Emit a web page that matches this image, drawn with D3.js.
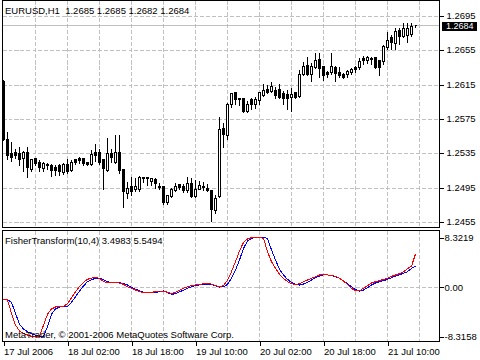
<!DOCTYPE html>
<html>
<head>
<meta charset="utf-8">
<script src="https://cdnjs.cloudflare.com/ajax/libs/d3/7.8.5/d3.min.js"></script>
<style>
  body { margin: 0; background: #fff; }
  svg { display: block; }
  text { font-family: "Liberation Sans", Arial, sans-serif; font-size: 9.5px; fill: #000; }
</style>
</head>
<body>
<div id="chart"></div>
<script>
// EURUSD H1 candles, 17 Jul 10:00 .. 21 Jul 17:00
var opens = [
  1.2619, 1.2552, 1.2535, 1.2536, 1.2535, 1.2529, 1.2536, 1.2517, 1.2529, 1.2525,
  1.2518, 1.2522, 1.2521, 1.2519, 1.2521, 1.2513, 1.2522, 1.2516, 1.2528, 1.2529,
  1.2529, 1.2525, 1.2522, 1.2536, 1.2536, 1.2528, 1.2516, 1.2535, 1.2525, 1.2536,
  1.2517, 1.2489, 1.2497, 1.2493, 1.2494, 1.2507, 1.2507, 1.2503, 1.2505, 1.2497,
  1.2497, 1.2478, 1.2485, 1.2492, 1.2499, 1.2497, 1.2492, 1.2500, 1.2485, 1.2494,
  1.2497, 1.2495, 1.2492, 1.2469, 1.2485, 1.2565, 1.2556, 1.2593, 1.2607, 1.2600,
  1.2600, 1.2584, 1.2598, 1.2593, 1.2597, 1.2603, 1.2610, 1.2608, 1.2609, 1.2610,
  1.2605, 1.2604, 1.2601, 1.2607, 1.2602, 1.2627, 1.2638, 1.2627, 1.2636, 1.2645,
  1.2637, 1.2630, 1.2630, 1.2636, 1.2630, 1.2627, 1.2627, 1.2630, 1.2636, 1.2636,
  1.2646, 1.2644, 1.2646, 1.2647, 1.2644, 1.2643, 1.2659, 1.2670, 1.2664, 1.2679,
  1.2672, 1.2673, 1.2674, 1.2685
];
var highs = [
  1.2622, 1.2561, 1.2549, 1.2541, 1.2544, 1.2539, 1.2543, 1.2530, 1.2531, 1.2528,
  1.2526, 1.2525, 1.2524, 1.2523, 1.2524, 1.2525, 1.2529, 1.2528, 1.2530, 1.2532,
  1.2531, 1.2526, 1.2540, 1.2547, 1.2541, 1.2529, 1.2554, 1.2541, 1.2558, 1.2558,
  1.2518, 1.2503, 1.2509, 1.2507, 1.2510, 1.2509, 1.2508, 1.2508, 1.2507, 1.2502,
  1.2498, 1.2488, 1.2496, 1.2502, 1.2500, 1.2500, 1.2509, 1.2508, 1.2505, 1.2504,
  1.2503, 1.2500, 1.2493, 1.2488, 1.2579, 1.2571, 1.2595, 1.2607, 1.2608, 1.2601,
  1.2601, 1.2597, 1.2601, 1.2602, 1.2607, 1.2617, 1.2616, 1.2619, 1.2613, 1.2617,
  1.2609, 1.2610, 1.2612, 1.2608, 1.2633, 1.2642, 1.2648, 1.2641, 1.2653, 1.2653,
  1.2638, 1.2632, 1.2653, 1.2638, 1.2637, 1.2630, 1.2633, 1.2636, 1.2638, 1.2647,
  1.2650, 1.2649, 1.2648, 1.2648, 1.2645, 1.2662, 1.2678, 1.2674, 1.2682, 1.2682,
  1.2688, 1.2688, 1.2688, 1.2685
];
var lows = [
  1.2550, 1.2528, 1.2526, 1.2529, 1.2521, 1.2514, 1.2508, 1.2515, 1.2521, 1.2514,
  1.2514, 1.2517, 1.2509, 1.2510, 1.2510, 1.2511, 1.2512, 1.2514, 1.2523, 1.2524,
  1.2521, 1.2521, 1.2521, 1.2526, 1.2522, 1.2493, 1.2515, 1.2525, 1.2524, 1.2512,
  1.2472, 1.2483, 1.2486, 1.2491, 1.2491, 1.2502, 1.2498, 1.2498, 1.2495, 1.2494,
  1.2476, 1.2476, 1.2484, 1.2491, 1.2494, 1.2490, 1.2490, 1.2484, 1.2484, 1.2493,
  1.2492, 1.2491, 1.2456, 1.2466, 1.2484, 1.2542, 1.2552, 1.2589, 1.2593, 1.2591,
  1.2583, 1.2583, 1.2587, 1.2588, 1.2593, 1.2602, 1.2605, 1.2607, 1.2599, 1.2599,
  1.2592, 1.2587, 1.2584, 1.2599, 1.2601, 1.2626, 1.2626, 1.2619, 1.2635, 1.2624,
  1.2621, 1.2624, 1.2628, 1.2619, 1.2624, 1.2623, 1.2624, 1.2627, 1.2630, 1.2633,
  1.2639, 1.2640, 1.2639, 1.2635, 1.2626, 1.2639, 1.2657, 1.2657, 1.2656, 1.2662,
  1.2671, 1.2665, 1.2672, 1.2682
];
var closes = [
  1.2552, 1.2533, 1.2531, 1.2533, 1.2528, 1.2536, 1.2519, 1.2528, 1.2524, 1.2519,
  1.2524, 1.2521, 1.2516, 1.2516, 1.2514, 1.2523, 1.2514, 1.2525, 1.2525, 1.2527,
  1.2524, 1.2522, 1.2534, 1.2533, 1.2525, 1.2518, 1.2535, 1.2531, 1.2537, 1.2516,
  1.2491, 1.2495, 1.2491, 1.2497, 1.2508, 1.2506, 1.2506, 1.2506, 1.2500, 1.2496,
  1.2478, 1.2486, 1.2493, 1.2497, 1.2496, 1.2492, 1.2500, 1.2485, 1.2493, 1.2498,
  1.2496, 1.2492, 1.2470, 1.2483, 1.2563, 1.2558, 1.2593, 1.2605, 1.2598, 1.2598,
  1.2584, 1.2593, 1.2593, 1.2598, 1.2606, 1.2609, 1.2607, 1.2613, 1.2603, 1.2601,
  1.2600, 1.2599, 1.2604, 1.2601, 1.2628, 1.2637, 1.2628, 1.2637, 1.2644, 1.2634,
  1.2626, 1.2628, 1.2637, 1.2629, 1.2626, 1.2624, 1.2631, 1.2633, 1.2633, 1.2643,
  1.2644, 1.2647, 1.2645, 1.2636, 1.2636, 1.2660, 1.2667, 1.2665, 1.2677, 1.2672,
  1.2681, 1.2681, 1.2683, 1.2684
];

// FisherTransform(10,4) buffers
var fisherMain = [
  -2.13, -2.13, -2.58, -4.42, -6.28, -7.06, -7.51, -7.84, -8.12, -8.3158,
  -8.30, -6.67, -4.59, -3.70, -3.36, -3.30, -3.25, -2.58, -1.63, -0.67,
  0.17, 0.90, 1.23, 1.46, 1.46, 1.23, 0.90, 0.78, 0.78, 0.78,
  0.56, 0.34, -0.11, -0.34, -0.67, -0.90, -0.90, -0.90, -0.90, -0.78,
  -0.67, -0.95, -1.23, -1.12, -0.78, -0.56, -0.22, 0.05, 0.22, 0.34,
  0.45, 0.45, 0.45, 0.22, 0.00, 0.05, 0.45, 1.46, 2.86, 4.54,
  6.50, 7.73, 8.18, 8.30, 8.3219, 8.32, 8.18, 6.22, 4.54, 2.97,
  2.02, 1.29, 0.78, 0.50, 0.34, 0.50, 0.78, 1.18, 1.57, 1.85,
  2.02, 2.02, 1.96, 1.73, 1.46, 1.06, 0.56, 0.05, -0.45, -0.67,
  -0.50, -0.11, 0.34, 0.67, 0.90, 1.06, 1.29, 1.57, 1.85, 2.07,
  2.30, 2.58, 3.14, 3.4983
];
var fisherSignal = [
  -2.02, -2.18, -4.42, -6.39, -7.39, -7.78, -8.07, -8.29, -8.3158, -8.30,
  -6.39, -4.59, -3.70, -3.36, -3.25, -3.25, -2.80, -1.79, -0.78, 0.05,
  0.78, 1.29, 1.51, 1.57, 1.46, 0.90, 0.78, 0.78, 0.78, 0.67,
  0.45, 0.05, -0.22, -0.50, -0.78, -0.90, -0.90, -0.90, -0.78, -0.67,
  -0.67, -0.90, -1.06, -0.90, -0.56, -0.22, 0.05, 0.22, 0.34, 0.45,
  0.56, 0.62, 0.50, 0.22, 0.05, 0.22, 1.18, 2.58, 4.25, 6.05,
  7.51, 8.07, 8.29, 8.3219, 8.30, 8.18, 5.93, 4.25, 3.14, 2.13,
  1.46, 0.90, 0.56, 0.45, 0.56, 0.90, 1.18, 1.46, 1.73, 2.02,
  2.13, 2.02, 1.96, 1.79, 1.46, 1.01, 0.45, -0.22, -0.62, -0.62,
  -0.22, 0.22, 0.67, 0.90, 1.06, 1.29, 1.46, 1.79, 2.02, 2.24,
  2.58, 3.08, 3.50, 5.5494
];

var priceTicks = [1.2695, 1.2655, 1.2615, 1.2575, 1.2535, 1.2495, 1.2455];
var indTicks = [8.3219, 0, -8.3158];
var timeTickBars = [0, 16, 32, 48, 64, 80, 96];
var timeLabels = ['17 Jul 2006', '18 Jul 02:00', '18 Jul 18:00', '19 Jul 10:00',
                  '20 Jul 02:00', '20 Jul 18:00', '21 Jul 10:00'];
var lastPrice = 1.2684;

var W = 480, H = 360;
var left = 2.5, right = 439.5;
var mainTop = 0.5, mainBottom = 227.5;
var indTop = 230.5, indBottom = 341.5;

var svg = d3.select('#chart').append('svg')
  .attr('width', W)
  .attr('height', H)
  .attr('shape-rendering', 'crispEdges');

svg.append('rect').attr('width', W).attr('height', H).attr('fill', '#fff');

// 4 px per bar
var x = d3.scaleLinear().domain([0, 109]).range([3.5, 439.5]);
var yMain = d3.scaleLinear().domain([1.2455, 1.2695]).range([222.5, 16.5]);
var yInd = d3.scaleLinear().domain([-8.3158, 8.3219]).range([336.5, 237.5]);
var py = function(v) { return Math.round(yMain(v) - 0.5) + 0.5; };

var defs = svg.append('defs');
defs.append('clipPath').attr('id', 'mainClip').append('rect')
  .attr('x', left + 0.5).attr('y', mainTop + 0.5)
  .attr('width', right - left - 1).attr('height', mainBottom - mainTop - 1);
defs.append('clipPath').attr('id', 'indClip').append('rect')
  .attr('x', left + 0.5).attr('y', indTop + 0.5)
  .attr('width', right - left - 1).attr('height', indBottom - indTop - 1);

var gridColor = '#c0c0c0';
var gridBars = d3.range(8, 110, 8);

// grid - main
var gMain = svg.append('g');
gMain.selectAll('line.vgrid').data(gridBars).enter().append('line')
  .attr('x1', d => x(d)).attr('x2', d => x(d))
  .attr('y1', mainTop).attr('y2', mainBottom)
  .attr('stroke', gridColor).attr('stroke-dasharray', '4,2');
gMain.selectAll('line.hgrid').data(priceTicks).enter().append('line')
  .attr('x1', left).attr('x2', right)
  .attr('y1', d => py(d)).attr('y2', d => py(d))
  .attr('stroke', gridColor).attr('stroke-dasharray', '4,2');

// current price line
gMain.append('line')
  .attr('x1', left).attr('x2', right)
  .attr('y1', py(lastPrice)).attr('y2', py(lastPrice))
  .attr('stroke', gridColor);

// candles
var bars = opens.map(function(o, i) {
  return {i: i, o: o, h: highs[i], l: lows[i], c: closes[i]};
});
var gC = svg.append('g').attr('clip-path', 'url(#mainClip)');
gC.selectAll('line.wick').data(bars).enter().append('line')
  .attr('x1', d => x(d.i)).attr('x2', d => x(d.i))
  .attr('y1', d => py(d.h)).attr('y2', d => py(d.l))
  .attr('stroke', '#000');
gC.selectAll('path.body').data(bars).enter().append('path')
  .attr('d', function(d) {
    var t = py(Math.max(d.o, d.c)), b = py(Math.min(d.o, d.c));
    var cx = x(d.i);
    return 'M' + (cx - 1) + ',' + t + 'H' + (cx + 1) + 'V' + b + 'H' + (cx - 1) + 'Z';
  })
  .attr('fill', d => d.c >= d.o ? '#fff' : '#000')
  .attr('stroke', '#000');

// frame - main
svg.append('rect')
  .attr('x', left).attr('y', mainTop)
  .attr('width', right - left).attr('height', mainBottom - mainTop)
  .attr('fill', 'none').attr('stroke', '#000');

// price axis
var priceAxis = svg.append('g')
  .attr('transform', 'translate(' + right + ',0)')
  .call(d3.axisRight(yMain).tickValues(priceTicks).tickFormat(d3.format('.4f'))
    .tickSize(4).tickPadding(3));
priceAxis.select('.domain').remove();
priceAxis.selectAll('.tick').attr('transform', d => 'translate(0,' + py(d) + ')');
priceAxis.selectAll('text').attr('font-family', null).attr('font-size', null)
  .attr('dy', '0.25em');

// last price marker
var lp = svg.append('g').attr('transform', 'translate(0,' + py(lastPrice) + ')');
lp.append('rect').attr('x', 442).attr('y', -3.5).attr('width', 35).attr('height', 8.5).attr('fill', '#000');
lp.append('text').attr('x', 446).attr('dy', '0.4em')
  .style('fill', '#fff').style('font-size', '9px').text(lastPrice.toFixed(4));

// title
svg.append('text').attr('x', 5).attr('y', 14)
  .attr('xml:space', 'preserve').style('white-space', 'pre')
  .text('EURUSD,H1  ' + [opens[103], highs[103], lows[103], closes[103]].map(d3.format('.4f')).join(' '));

// ---------- indicator window ----------
var gInd = svg.append('g');
gInd.selectAll('line.vgrid').data(gridBars).enter().append('line')
  .attr('x1', d => x(d)).attr('x2', d => x(d))
  .attr('y1', indTop).attr('y2', indBottom)
  .attr('stroke', gridColor).attr('stroke-dasharray', '4,2');
gInd.append('line')
  .attr('x1', left).attr('x2', right)
  .attr('y1', Math.round(yInd(0) - 0.5) + 0.5).attr('y2', Math.round(yInd(0) - 0.5) + 0.5)
  .attr('stroke', gridColor).attr('stroke-dasharray', '4,2');

var line = d3.line().x((d, i) => x(i)).y(d => yInd(d));
var gL = svg.append('g').attr('clip-path', 'url(#indClip)');
gL.append('path').datum(fisherMain).attr('d', line)
  .attr('fill', 'none').attr('stroke', '#0000ff').attr('stroke-width', 1);
gL.append('path').datum(fisherSignal).attr('d', line)
  .attr('fill', 'none').attr('stroke', '#ff0000').attr('stroke-width', 1);

svg.append('rect')
  .attr('x', left).attr('y', indTop)
  .attr('width', right - left).attr('height', indBottom - indTop)
  .attr('fill', 'none').attr('stroke', '#000');

svg.append('text').attr('x', 5).attr('y', 244)
  .text('FisherTransform(10,4) ' + fisherMain[103].toFixed(4) + ' ' + fisherSignal[103].toFixed(4));
svg.append('text').attr('x', 5).attr('y', 338)
  .text('MetaTrader, \u00a9 2001-2006 MetaQuotes Software Corp.');

var indAxis = svg.append('g')
  .attr('transform', 'translate(' + right + ',0)')
  .call(d3.axisRight(yInd).tickValues(indTicks)
    .tickFormat(d => d === 0 ? '0.00' : d.toFixed(4))
    .tickSize(4).tickPadding(1));
indAxis.select('.domain').remove();
indAxis.selectAll('text').attr('font-family', null).attr('font-size', null);

// time axis
var timeAxis = svg.append('g')
  .attr('transform', 'translate(0,' + indBottom + ')')
  .call(d3.axisBottom(x).tickValues(timeTickBars)
    .tickFormat((d, i) => timeLabels[i]).tickSize(4).tickPadding(3));
timeAxis.select('.domain').remove();
timeAxis.selectAll('text').attr('font-family', null).attr('font-size', null)
  .attr('text-anchor', 'start').attr('x', 0);
</script>
</body>
</html>
